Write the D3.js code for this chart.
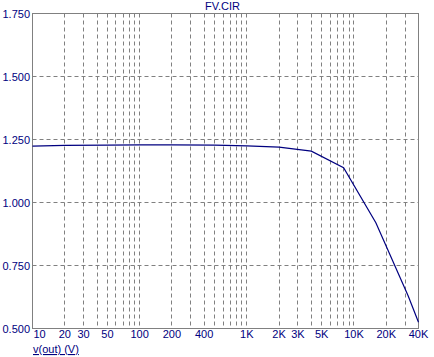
<!DOCTYPE html>
<html>
<head>
<meta charset="utf-8">
<script src="https://cdn.jsdelivr.net/npm/d3@7"></script>
<style>
  html, body { margin: 0; padding: 0; background: #fff; }
  svg { display: block; }
  text { font-family: "Liberation Sans", Arial, sans-serif; font-size: 11px; fill: #000080; }
</style>
</head>
<body>
<svg id="chart" width="434" height="357"></svg>
<script>
const title = "FV.CIR";
const yLabel = "v(out) (V)";
const freq = [10, 20, 50, 100, 200, 500, 1000, 2000, 4000, 8000, 16000, 32000, 40000];
const vout = [1.224, 1.227, 1.228, 1.229, 1.229, 1.228, 1.225, 1.220, 1.204, 1.138, 0.920, 0.630, 0.525];
const xTickValues = [10, 20, 30, 50, 100, 200, 400, 1000, 2000, 3000, 5000, 10000, 20000, 40000];
const xTickLabels = ["10", "20", "30", "50", "100", "200", "400", "1K", "2K", "3K", "5K", "10K", "20K", "40K"];
const yTickValues = [1.75, 1.5, 1.25, 1.0, 0.75, 0.5];
const yTickLabels = ["1.750", "1.500", "1.250", "1.000", "0.750", "0.500"];
const xGridValues = [20, 30, 40, 50, 60, 70, 80, 90, 100, 200, 300, 400, 500, 600, 700, 800, 900,
  1000, 2000, 3000, 4000, 5000, 6000, 7000, 8000, 9000, 10000, 20000, 30000];
const yGridValues = [1.5, 1.25, 1.0, 0.75];

const svg = d3.select("#chart");
const L = 32.5, R = 418.5, T = 13.5, B = 328.5;
const x = d3.scaleLog().domain([10, 40000]).range([L, R]);
const y = d3.scaleLinear().domain([0.5, 1.75]).range([B, T]);

// grid
const grid = svg.append("g").attr("stroke", "#808080").attr("stroke-width", 1).attr("stroke-dasharray", "4,3");
grid.selectAll("line.vx").data(xGridValues).enter().append("line")
  .attr("x1", d => Math.round(x(d) - 0.5) + 0.5).attr("x2", d => Math.round(x(d) - 0.5) + 0.5)
  .attr("y1", T).attr("y2", B);
grid.selectAll("line.hy").data(yGridValues).enter().append("line")
  .attr("x1", L).attr("x2", R)
  .attr("y1", d => y(d)).attr("y2", d => y(d));

// border
svg.append("rect").attr("x", L).attr("y", T).attr("width", R - L).attr("height", B - T)
  .attr("fill", "none").attr("stroke", "#808080").attr("stroke-width", 1);

// curve
const line = d3.line().x((d, i) => x(freq[i])).y(d => y(d));
svg.append("path").datum(vout).attr("d", line)
  .attr("fill", "none").attr("stroke", "#000080").attr("stroke-width", 1.2);

// y tick labels
svg.append("g").selectAll("text").data(yTickValues).enter().append("text")
  .attr("x", 30).attr("y", d => y(d) + 4)
  .attr("text-anchor", "end")
  .text((d, i) => yTickLabels[i]);

// x tick labels
svg.append("g").selectAll("text").data(xTickValues).enter().append("text")
  .attr("x", (d, i) => i === 0 ? x(d) + 1 : x(d))
  .attr("y", 338)
  .attr("text-anchor", (d, i) => i === 0 ? "start" : "middle")
  .text((d, i) => xTickLabels[i]);

// title
svg.append("text").attr("x", (L + R) / 2 - 3).attr("y", 10).attr("text-anchor", "middle").text(title);

// axis variable label
svg.append("text").attr("x", 33).attr("y", 353).attr("text-decoration", "underline").text(yLabel);
</script>
</body>
</html>
